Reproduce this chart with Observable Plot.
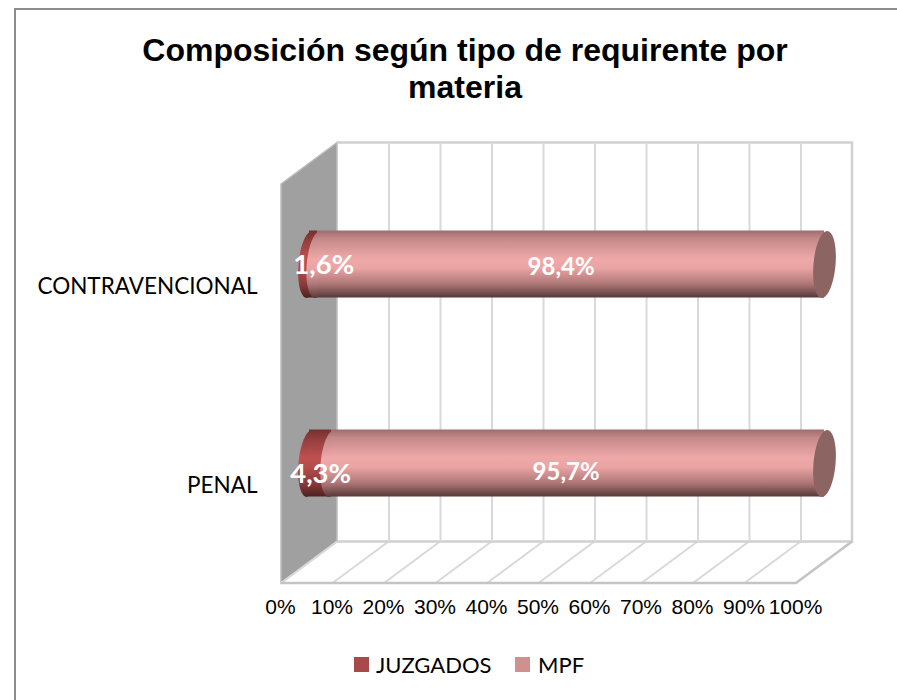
<!DOCTYPE html>
<html lang="es">
<head>
<meta charset="utf-8">
<script src="https://cdn.jsdelivr.net/npm/d3@7"></script>
<script src="https://cdn.jsdelivr.net/npm/@observablehq/plot@0.6"></script>
<style>
  html, body { margin: 0; padding: 0; background: #fff; }
  #page { position: relative; width: 897px; height: 700px; overflow: hidden; background: #fff; }
  #frame { position: absolute; left: 14px; top: 8px; right: -10px; bottom: -10px; border: 2px solid #8c8c8c; }
  #title { position: absolute; left: 0; top: 32px; width: 930px; text-align: center; font: bold 32px/37px "Liberation Sans", Arial, sans-serif; color: #000; }
  #chart { position: absolute; left: 0; top: 108px; }
  #legend { position: absolute; top: 650px; left: 0; width: 897px; height: 30px; font: 22px/30px Lato, sans-serif; color: #000; }
  #legend i { position: absolute; top: 7px; width: 15px; height: 15px; }
  #legend span { position: absolute; top: 0; }
</style>
</head>
<body>
<div id="page">
  <div id="frame"></div>
  <div id="title">Composición según tipo de requirente por<br>materia</div>
  <div id="chart"></div>
  <div id="legend"></div>
</div>
<script>
const categories = ["CONTRAVENCIONAL", "PENAL"];
const juzgados = [1.6, 4.3];
const mpf = [98.4, 95.7];
const seriesNames = ["JUZGADOS", "MPF"];
const seriesColors = ["#a94a4a", "#d09090"];
const xTicks = [0, 10, 20, 30, 40, 50, 60, 70, 80, 90, 100];

// 3D look: the bars sit halfway back in the box
const depthX = 56, depthY = -41.5;
const barDx = 28, barDy = -20.5;
const capR = 33.5;

function ellipseSymbol(widthRatio, shear) {
  return {
    draw(ctx, size) {
      const ry = Math.sqrt(size / Math.PI), rx = ry * widthRatio, k = 0.5523;
      const p = (x, y) => [x + shear * y, y];
      ctx.moveTo(...p(0, -ry));
      ctx.bezierCurveTo(...p(rx * k, -ry), ...p(rx, -ry * k), ...p(rx, 0));
      ctx.bezierCurveTo(...p(rx, ry * k), ...p(rx * k, ry), ...p(0, ry));
      ctx.bezierCurveTo(...p(-rx * k, ry), ...p(-rx, ry * k), ...p(-rx, 0));
      ctx.bezierCurveTo(...p(-rx, -ry * k), ...p(-rx * k, -ry), ...p(0, -ry));
      ctx.closePath();
    }
  };
}
const capSymbol = ellipseSymbol(0.33, -0.08);

const defs = () => {
  const d = d3.create("svg:defs");
  const grad = (id, stops) => {
    const g = d.append("linearGradient").attr("id", id).attr("x1", 0).attr("y1", 0).attr("x2", 0).attr("y2", 1);
    stops.forEach(([o, c]) => g.append("stop").attr("offset", o).attr("stop-color", c));
  };
  grad("gMpf", [[0, "#a06c6c"], [0.12, "#c48888"], [0.42, "#efa8a8"], [0.56, "#eaa4a4"], [0.8, "#ad7676"], [1, "#573838"]]);
  grad("gJuz", [[0, "#743030"], [0.15, "#953e3e"], [0.42, "#c05050"], [0.55, "#b84c4c"], [0.8, "#8a3a3a"], [1, "#4e2020"]]);
  return d.node();
};

// wall and floor of the box, derived from the x scale and the plot frame
const box = (index, {x}, values, dims) => {
  const top = dims.marginTop, bottom = dims.height - dims.marginBottom;
  const g = d3.create("svg:g").attr("fill", "none");
  g.append("path")
    .attr("d", `M${x(0)},${top}L${x(0) + depthX},${top + depthY}L${x(0) + depthX},${bottom + depthY}L${x(0)},${bottom}Z`)
    .attr("fill", "#a0a0a0").attr("stroke", "#bdbdbd").attr("stroke-width", 1.5);
  for (const t of xTicks) {
    g.append("line")
      .attr("x1", x(t)).attr("y1", bottom)
      .attr("x2", x(t) + depthX).attr("y2", bottom + depthY)
      .attr("stroke", "#d9d9d9").attr("stroke-width", 2);
  }
  g.append("path")
    .attr("d", `M${x(0) + depthX},${top + depthY}H${x(100) + depthX}V${bottom + depthY}H${x(0) + depthX}`)
    .attr("stroke", "#d0d0d0").attr("stroke-width", 2.5);
  g.append("path")
    .attr("d", `M${x(0)},${bottom}H${x(100)}L${x(100) + depthX},${bottom + depthY}`)
    .attr("stroke", "#c4c4c4").attr("stroke-width", 2.5);
  return g.node();
};

const rows = categories.map((c, i) => ({category: c, j: juzgados[i], m: mpf[i]}));
const bar = {dx: barDx, dy: barDy, insetTop: 66, insetBottom: 66};
const cap = {dx: barDx, dy: barDy, r: capR, symbol: capSymbol};
const label = {fill: "#fff", fontFamily: "Lato, sans-serif", fontWeight: 700, fontSize: 24};
const smallLabel = {...label, fontSize: 27.5};
const fmt = v => v.toFixed(1).replace(".", ",") + "%";

const chart = Plot.plot({
  width: 897,
  height: 522,
  marginLeft: 281,
  marginRight: 101,
  marginTop: 76,
  marginBottom: 47,
  style: {background: "transparent", overflow: "visible"},
  x: {domain: [0, 100], label: null},
  y: {type: "band", domain: categories, padding: 0, label: null},
  marks: [
    defs,
    box,
    Plot.ruleX(xTicks.slice(1, -1), {x: d => d, dx: depthX, dy: depthY, stroke: "#d9d9d9", strokeWidth: 2}),
    Plot.axisX(xTicks, {tickSize: 0, tickPadding: 16, dx: -1, tickFormat: d => d + "%", fontSize: 21, fontFamily: "'Liberation Sans', Arial, sans-serif", fill: "#000", label: null}),
    Plot.axisY(categories, {tickSize: 0, tickPadding: 24, dy: 2, fontSize: 22.5, fontFamily: "Lato, sans-serif", fill: "#000", label: null}),
    // JUZGADOS segment with its rounded left end
    Plot.dot(rows, {x: () => 0, y: "category", fill: "url(#gJuz)", ...cap}),
    Plot.barX(rows, {x1: () => 0, x2: "j", y: "category", fill: "url(#gJuz)", ...bar}),
    // MPF segment: its left end overlaps JUZGADOS, right end is a flat cap
    Plot.dot(rows, {x: "j", y: "category", fill: "url(#gMpf)", ...cap}),
    Plot.barX(rows, {x1: "j", x2: d => d.j + d.m, y: "category", fill: "url(#gMpf)", ...bar}),
    Plot.dot(rows, {x: d => d.j + d.m, y: "category", fill: "#8c6462", ...cap}),
    // value labels
    Plot.text([rows[0]], {x: "j", y: "category", text: d => fmt(d.j), dx: 34, dy: -20, ...smallLabel}),
    Plot.text([rows[1]], {x: "j", y: "category", text: d => fmt(d.j), dx: 17, dy: -10, ...smallLabel}),
    Plot.text([rows[0]], {x: d => d.j + d.m / 2, y: "category", text: d => fmt(d.m), dx: 18, dy: -18, ...label}),
    Plot.text([rows[1]], {x: d => d.j + d.m / 2, y: "category", text: d => fmt(d.m), dx: 16, dy: -12, ...label})
  ]
});
document.getElementById("chart").append(chart);

const legend = document.getElementById("legend");
const swatchX = [354, 515], textX = [376, 538];
seriesNames.forEach((name, i) => {
  const sw = document.createElement("i");
  sw.style.left = swatchX[i] + "px";
  sw.style.background = seriesColors[i];
  legend.append(sw);
  const s = document.createElement("span");
  s.style.left = textX[i] + "px";
  s.textContent = name;
  legend.append(s);
});
</script>
</body>
</html>
